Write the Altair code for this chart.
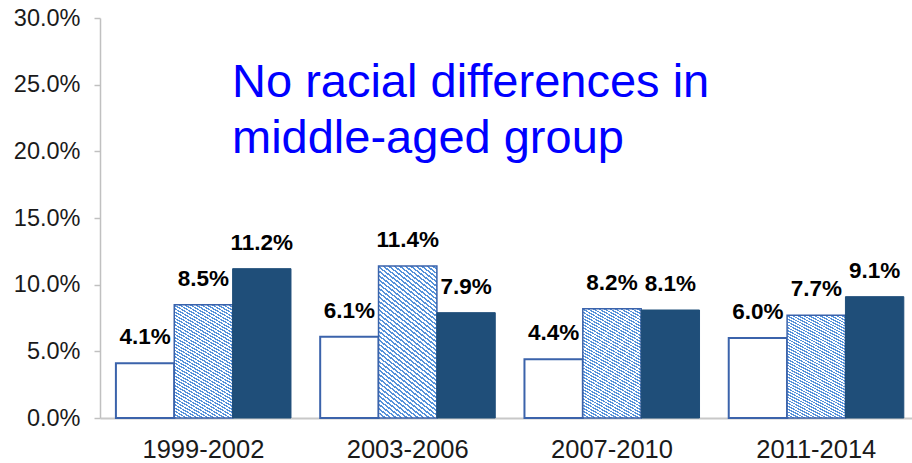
import altair as alt
import pandas as pd

periods = ["1999-2002", "2003-2006", "2007-2010", "2011-2014"]
series = ["Series 1", "Series 2", "Series 3"]
values_s1 = [0.041, 0.061, 0.044, 0.060]
values_s2 = [0.085, 0.114, 0.082, 0.077]
values_s3 = [0.112, 0.079, 0.081, 0.091]
y_ticks = [0.0, 0.05, 0.10, 0.15, 0.20, 0.25, 0.30]
note_lines = ["No racial differences in", "middle-aged group"]
note_y = [0.2407, 0.1988]

rows = []
for s, vals in zip(series, [values_s1, values_s2, values_s3]):
    for p, v in zip(periods, vals):
        rows.append({"period": p, "series": s, "value": v})
df = pd.DataFrame(rows)
notes = pd.DataFrame({"text": note_lines, "y": note_y})

FONT = "Liberation Sans"
OUTLINE = "#3b63ab"
DARK = "#1f4e79"
STRIPE = "#5592da"

# hatched look via a striped linear gradient
n_stripes = 46
stops = []
for k in range(n_stripes):
    a = k / n_stripes
    m = (k + 0.45) / n_stripes
    b = (k + 1) / n_stripes
    stops += [
        alt.GradientStop(color=STRIPE, offset=a),
        alt.GradientStop(color=STRIPE, offset=m),
        alt.GradientStop(color="#ffffff", offset=m),
        alt.GradientStop(color="#ffffff", offset=b),
    ]
hatch = alt.LinearGradient(gradient="linear", stops=stops,
                           x1=0, y1=1, x2=0.358, y2=-0.193)

x_enc = alt.X("period:N", sort=periods, title=None,
              scale=alt.Scale(domain=periods, paddingInner=0.143,
                              paddingOuter=0.059, align=0.66),
              axis=alt.Axis(labelAngle=0, labelFontSize=25.5, labelFont=FONT,
                            labelColor="#1a1a1a", ticks=False, tickSize=0,
                            labelPadding=19, domainColor="#c8c8c8",
                            domainWidth=2))
xo_enc = alt.XOffset("series:N", scale=alt.Scale(domain=series,
                                                 paddingInner=0,
                                                 paddingOuter=0))
y_enc = alt.Y("value:Q", title=None,
              scale=alt.Scale(domain=[0, 0.30], nice=False),
              axis=alt.Axis(values=y_ticks, format=".1%", grid=False,
                            labelFontSize=23.5, labelFont=FONT,
                            labelColor="#1a1a1a", tickSize=6,
                            tickColor="#c0c0c0", domainColor="#c0c0c0",
                            domainWidth=1.5, tickWidth=1.5,
                            labelPadding=14))

base = alt.Chart(df).encode(x=x_enc, xOffset=xo_enc, y=y_enc)

b1 = base.transform_filter(alt.datum.series == series[0]).mark_bar(
    fill="#ffffff", stroke=OUTLINE, strokeWidth=2)
b2 = base.transform_filter(alt.datum.series == series[1]).mark_bar(
    fill=hatch, stroke=OUTLINE, strokeWidth=1.5)
b3 = base.transform_filter(alt.datum.series == series[2]).mark_bar(
    fill=DARK, stroke=DARK, strokeWidth=1)

labels = base.mark_text(font=FONT, fontSize=22.5, fontWeight="bold",
                        color="#000000", baseline="alphabetic", dy=-19
                        ).encode(text=alt.Text("value:Q", format=".1%"))

note = alt.Chart(notes).mark_text(
    font=FONT, fontSize=47, color="#0000ff", align="left",
    baseline="alphabetic").encode(
    x=alt.value(132),
    y=alt.Y("y:Q", scale=alt.Scale(domain=[0, 0.30], nice=False)),
    text="text:N")

chart = alt.layer(b1, b2, b3, labels, note).properties(
    width=812, height=400,
    autosize=alt.AutoSizeParams(type="none"),
    padding={"left": 100, "top": 18, "right": 0, "bottom": 45},
    background="#ffffff",
).configure_view(stroke=None)

chart.save("out.html", embed_options={"renderer": "svg", "actions": False})
